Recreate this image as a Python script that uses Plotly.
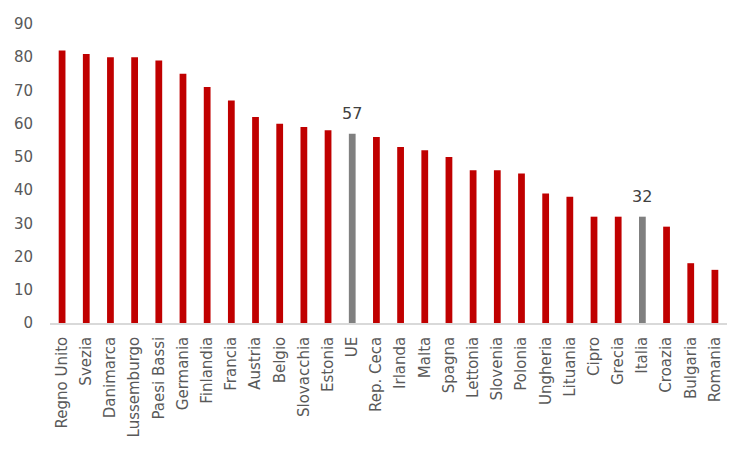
import plotly.graph_objects as go

countries = ["Regno Unito", "Svezia", "Danimarca", "Lussemburgo", "Paesi Bassi", "Germania",
             "Finlandia", "Francia", "Austria", "Belgio", "Slovacchia", "Estonia", "UE",
             "Rep. Ceca", "Irlanda", "Malta", "Spagna", "Lettonia", "Slovenia", "Polonia",
             "Ungheria", "Lituania", "Cipro", "Grecia", "Italia", "Croazia", "Bulgaria", "Romania"]
values = [82, 81, 80, 80, 79, 75, 71, 67, 62, 60, 59, 58, 57,
          56, 53, 52, 50, 46, 46, 45, 39, 38, 32, 32, 32, 29, 18, 16]
highlight = ["UE", "Italia"]
y_ticks = [0, 10, 20, 30, 40, 50, 60, 70, 80, 90]

FONT = "DejaVu Sans"
colors = ["#808080" if c in highlight else "#C00000" for c in countries]

fig = go.Figure(go.Bar(
    x=countries, y=values, marker=dict(color=colors, line=dict(width=0)),
    width=0.28, hoverinfo="x+y",
))
for c, v in zip(countries, values):
    if c in highlight:
        fig.add_annotation(x=c, y=v, text=str(v), showarrow=False, yanchor="bottom",
                           yshift=9, font=dict(family=FONT, size=16, color="#404040"))

fig.update_layout(
    width=750, height=450,
    margin=dict(l=50, r=23, t=24, b=127),
    plot_bgcolor="white", paper_bgcolor="white",
    showlegend=False,
    font=dict(family=FONT, color="#595959"),
    xaxis=dict(tickangle=-90, tickfont=dict(family=FONT, size=15, color="#595959"),
               showline=True, linecolor="#d9d9d9", linewidth=1.5,
               ticks="outside", ticklen=6, tickcolor="rgba(0,0,0,0)",
               showgrid=False, range=[-0.5, len(countries) - 0.5]),
    yaxis=dict(range=[0, 90], tickvals=y_ticks, showgrid=False, zeroline=False,
               tickfont=dict(family=FONT, size=15, color="#595959"),
               ticks="outside", ticklen=13, tickcolor="rgba(0,0,0,0)"),
)
fig.write_html("out.html")
